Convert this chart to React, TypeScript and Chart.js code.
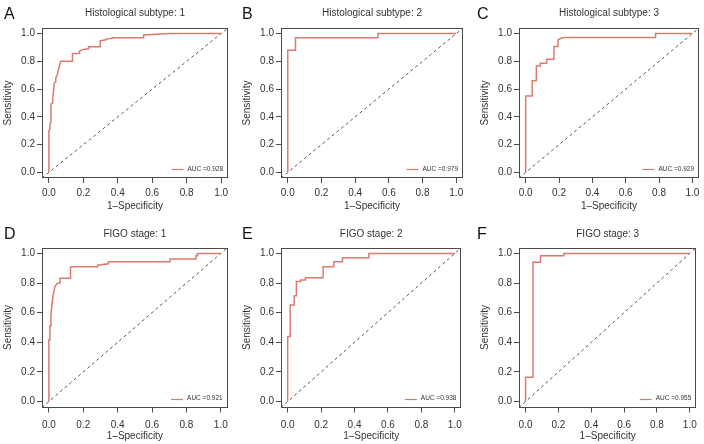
import React, { useEffect, useRef } from "react";
import { Chart, registerables } from "chart.js";

Chart.register(...registerables);

const FONT = '"Liberation Sans", Arial, Helvetica, sans-serif';
const TEXT_COLOR = "#333333";
const AXIS_COLOR = "#4a4a4a";
const ROC_COLOR = "#DB7B70";
const DIAG_COLOR = "#555555";

// ---------- axis definitions ----------
const AXIS_MIN = -0.04;
const AXIS_MAX = 1.04;
const tickValues = [0, 0.2, 0.4, 0.6, 0.8, 1.0];
const tickLabels = ["0.0", "0.2", "0.4", "0.6", "0.8", "1.0"];
const xAxisTitle = "1\u2013Specificity";
const yAxisTitle = "Sensitivity";
const diagonal = [AXIS_MIN, AXIS_MAX];

// ---------- panel texts ----------
const panelLetters = ["A", "B", "C", "D", "E", "F"];
const panelTitles = [
  "Histological subtype: 1",
  "Histological subtype: 2",
  "Histological subtype: 3",
  "FIGO stage: 1",
  "FIGO stage: 2",
  "FIGO stage: 3",
];
const aucValues = [0.928, 0.979, 0.929, 0.921, 0.938, 0.955];

// ---------- ROC curves (1-specificity, sensitivity) ----------
const subtype1Fpr = [0, 0, 0.006, 0.006, 0.012, 0.012, 0.02, 0.022, 0.028, 0.03, 0.036, 0.04, 0.048, 0.055, 0.062, 0.069, 0.137, 0.137, 0.178, 0.178, 0.2, 0.23, 0.23, 0.298, 0.298, 0.33, 0.33, 0.367, 0.367, 0.55, 0.55, 0.7, 1.0];
const subtype1Tpr = [0, 0.3, 0.31, 0.35, 0.36, 0.49, 0.5, 0.53, 0.6, 0.64, 0.65, 0.68, 0.7, 0.74, 0.77, 0.8, 0.8, 0.857, 0.857, 0.874, 0.886, 0.89, 0.905, 0.905, 0.948, 0.955, 0.96, 0.965, 0.97, 0.97, 0.99, 1.0, 1.0];

const subtype2Fpr = [0, 0, 0.046, 0.046, 0.535, 0.535, 1.0];
const subtype2Tpr = [0, 0.88, 0.88, 0.97, 0.97, 1.0, 1.0];

const subtype3Fpr = [0, 0, 0.039, 0.039, 0.064, 0.064, 0.087, 0.087, 0.126, 0.126, 0.17, 0.17, 0.194, 0.194, 0.213, 0.233, 0.779, 0.779, 1.0];
const subtype3Tpr = [0, 0.55, 0.55, 0.66, 0.66, 0.767, 0.767, 0.787, 0.787, 0.815, 0.815, 0.906, 0.906, 0.954, 0.966, 0.971, 0.971, 1.0, 1.0];

const stage1Fpr = [0, 0, 0.006, 0.006, 0.012, 0.012, 0.02, 0.025, 0.035, 0.049, 0.064, 0.064, 0.126, 0.126, 0.283, 0.283, 0.346, 0.346, 0.705, 0.705, 0.856, 0.856, 0.864, 0.864, 1.0];
const stage1Tpr = [0, 0.417, 0.417, 0.51, 0.51, 0.585, 0.675, 0.72, 0.776, 0.798, 0.8, 0.832, 0.832, 0.91, 0.91, 0.92, 0.93, 0.944, 0.944, 0.962, 0.962, 0.985, 0.985, 1.0, 1.0];

const stage2Fpr = [0, 0, 0.015, 0.015, 0.039, 0.039, 0.052, 0.052, 0.077, 0.077, 0.106, 0.106, 0.212, 0.212, 0.276, 0.276, 0.328, 0.328, 0.486, 0.486, 1.0];
const stage2Tpr = [0, 0.44, 0.44, 0.652, 0.652, 0.715, 0.715, 0.81, 0.81, 0.82, 0.82, 0.836, 0.836, 0.91, 0.91, 0.944, 0.944, 0.97, 0.97, 1.0, 1.0];

const stage3Fpr = [0, 0, 0.045, 0.045, 0.091, 0.091, 0.233, 0.233, 1.0];
const stage3Tpr = [0, 0.164, 0.164, 0.94, 0.94, 0.984, 0.984, 1.0, 1.0];

const curveFpr = [subtype1Fpr, subtype2Fpr, subtype3Fpr, stage1Fpr, stage2Fpr, stage3Fpr];
const curveTpr = [subtype1Tpr, subtype2Tpr, subtype3Tpr, stage1Tpr, stage2Tpr, stage3Tpr];

// ---------- layout (page geometry) ----------
const colLayout = [
  { left: 0, width: 235, plotLeft: 42, plotRight: 228, letterX: 4 },
  { left: 235, width: 234, plotLeft: 46, plotRight: 228, letterX: 7 },
  { left: 469, width: 235, plotLeft: 50, plotRight: 232, letterX: 8 },
];
const rowLayout = [
  { top: 0, height: 222, titlePadTop: 7.5, titlePadBottom: 8.5, plotBottom: 178, tickPadX: 4.5, xTitlePadBottom: 9.5, letterY: 6 },
  { top: 222, height: 222, titlePadTop: 6.5, titlePadBottom: 7, plotBottom: 185.5, tickPadX: 7, xTitlePadBottom: 2, letterY: 4 },
];

const framePlugin = {
  id: "rocFrame",
  afterDatasetsDraw(chart: any) {
    const { ctx, chartArea: a } = chart;
    ctx.save();
    ctx.strokeStyle = AXIS_COLOR;
    ctx.lineWidth = 1;
    const l = Math.round(a.left) + 0.5;
    const t = Math.round(a.top) + 0.5;
    const r = Math.round(a.right) - 0.5;
    const b = Math.round(a.bottom) - 0.5;
    ctx.strokeRect(l, t, r - l, b - t);
    ctx.restore();
  },
};

const aucLegendPlugin = {
  id: "aucLegend",
  afterDraw(chart: any) {
    const { ctx, chartArea: a } = chart;
    const ds = chart.data.datasets[0];
    ctx.save();
    ctx.font = `6.5px ${FONT}`;
    ctx.fillStyle = TEXT_COLOR;
    ctx.textAlign = "right";
    ctx.textBaseline = "middle";
    const xr = a.right - 5;
    const y = a.bottom - 9;
    ctx.fillText(ds.label, xr, y);
    const w = ctx.measureText(ds.label).width;
    const lineEnd = xr - w - 4;
    ctx.strokeStyle = ds.borderColor;
    ctx.lineWidth = 1.2;
    ctx.beginPath();
    ctx.moveTo(lineEnd - 12, Math.round(y) + 0.5);
    ctx.lineTo(lineEnd, Math.round(y) + 0.5);
    ctx.stroke();
    ctx.restore();
  },
};

function RocPanel({ index }: { index: number }) {
  const ref = useRef<HTMLCanvasElement>(null);
  const col = colLayout[index % 3];
  const row = rowLayout[Math.floor(index / 3)];

  useEffect(() => {
    const fpr = curveFpr[index];
    const tpr = curveTpr[index];
    const rocData = fpr.map((x, i) => ({ x, y: tpr[i] }));
    const diagData = diagonal.map((v) => ({ x: v, y: v }));
    const tickFont = { family: FONT, size: 10 };

    const chart = new Chart(ref.current as HTMLCanvasElement, {
      type: "line",
      data: {
        datasets: [
          {
            label: `AUC =${aucValues[index].toFixed(3)}`,
            data: rocData,
            borderColor: ROC_COLOR,
            borderWidth: 1.5,
            pointRadius: 0,
            tension: 0,
            fill: false,
          },
          {
            label: "reference",
            data: diagData,
            borderColor: DIAG_COLOR,
            borderWidth: 1,
            borderDash: [3, 3],
            pointRadius: 0,
            tension: 0,
            fill: false,
          },
        ],
      },
      options: {
        animation: false,
        responsive: false,
        maintainAspectRatio: false,
        events: [],
        layout: { padding: { left: 0, right: col.width - col.plotRight, top: 0, bottom: 0 } },
        plugins: {
          legend: { display: false },
          tooltip: { enabled: false },
          title: {
            display: true,
            text: panelTitles[index],
            fullSize: false,
            color: TEXT_COLOR,
            font: { family: FONT, size: 10, weight: "normal" },
            padding: { top: row.titlePadTop, bottom: row.titlePadBottom },
          },
        },
        scales: {
          x: {
            type: "linear",
            min: AXIS_MIN,
            max: AXIS_MAX,
            afterBuildTicks: (s: any) => {
              s.ticks = tickValues.map((v) => ({ value: v }));
            },
            afterFit: (s: any) => {
              s.height = row.height - row.plotBottom;
            },
            ticks: {
              callback: (_v: any, i: number) => tickLabels[i],
              font: tickFont,
              color: TEXT_COLOR,
              padding: row.tickPadX,
              maxRotation: 0,
              minRotation: 0,
              autoSkip: false,
            },
            grid: { display: true, drawOnChartArea: false, drawTicks: true, tickLength: 5, color: AXIS_COLOR, lineWidth: 1 },
            border: { display: false },
            title: {
              display: true,
              text: xAxisTitle,
              color: TEXT_COLOR,
              font: tickFont,
              padding: { top: 0, bottom: row.xTitlePadBottom },
            },
          },
          y: {
            type: "linear",
            min: AXIS_MIN,
            max: AXIS_MAX,
            afterBuildTicks: (s: any) => {
              s.ticks = tickValues.map((v) => ({ value: v }));
            },
            afterFit: (s: any) => {
              s.width = col.plotLeft;
            },
            ticks: {
              callback: (_v: any, i: number) => tickLabels[i],
              font: tickFont,
              color: TEXT_COLOR,
              padding: 2,
              autoSkip: false,
            },
            grid: { display: true, drawOnChartArea: false, drawTicks: true, tickLength: 5, color: AXIS_COLOR, lineWidth: 1 },
            border: { display: false },
            title: {
              display: true,
              text: yAxisTitle,
              color: TEXT_COLOR,
              font: tickFont,
              padding: { top: col.plotLeft - 40, bottom: 0 },
            },
          },
        },
      } as any,
      plugins: [framePlugin, aucLegendPlugin],
    });
    return () => chart.destroy();
  }, [index]);

  return (
    <>
      <canvas
        ref={ref}
        width={col.width}
        height={row.height}
        style={{ position: "absolute", left: col.left, top: row.top, width: col.width, height: row.height }}
      />
      <div
        style={{
          position: "absolute",
          left: col.left + col.letterX,
          top: row.top + row.letterY,
          fontFamily: FONT,
          fontSize: 16,
          lineHeight: "16px",
          color: "#111",
        }}
      >
        {panelLetters[index]}
      </div>
    </>
  );
}

export default function App() {
  return (
    <div style={{ position: "absolute", left: 0, top: 0, width: 704, height: 444, background: "#ffffff", overflow: "hidden" }}>
      {panelLetters.map((_, i) => (
        <RocPanel key={i} index={i} />
      ))}
    </div>
  );
}
